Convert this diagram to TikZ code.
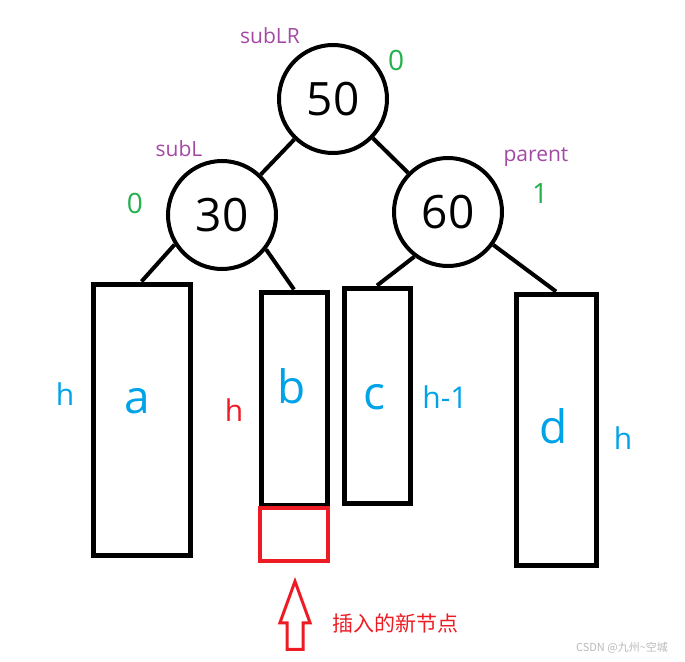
\documentclass[tikz,border=0pt]{standalone}
\usepackage{fontspec}
\setmainfont{Open Sans}
\newfontfamily\cjk{Noto Sans CJK SC}
\usetikzlibrary{shapes.arrows}
\definecolor{paintblue}{HTML}{00A2E8}
\definecolor{paintred}{HTML}{ED1C24}
\definecolor{paintgreen}{HTML}{22B14C}
\definecolor{paintpurple}{HTML}{A349A4}
\definecolor{markgray}{RGB}{185,185,185}
\newcommand{\fsz}[1]{\fontsize{#1}{#1}\selectfont}

\begin{document}
\begin{tikzpicture}[x=1pt,y=-1pt,
  key/.style={circle,draw,line width=4pt,minimum size=108pt,inner sep=0pt,font=\fsz{46}},
  subtree/.style={draw,line width=5pt,inner sep=0pt},
  edge/.style={line width=4pt},
  letter/.style={text=paintblue,font=\fsz{46}},
  height/.style={text=paintblue,font=\fsz{30}},
  tag/.style={text=paintpurple,font=\fsz{21}},
  bf/.style={text=paintgreen,font=\fsz{28}}]
  \useasboundingbox (0,0) rectangle (685,661);
  % keys
  \node[key] (n50) at (333,99) {50};
  \node[key] (n30) at (222,215) {30};
  \node[key] (n60) at (448,212) {60};
  % subtrees
  \node[subtree,minimum width=97pt,minimum height=271pt] (a) at (141.5,419.5) {};
  \node[subtree,minimum width=66pt,minimum height=213pt] (b) at (294,398.5) {};
  \node[subtree,minimum width=66pt,minimum height=215pt] (c) at (377,395.5) {};
  \node[subtree,minimum width=80pt,minimum height=271pt] (d) at (556,429.5) {};
  \node[draw=paintred,line width=4pt,inner sep=0pt,minimum width=68pt,minimum height=53pt] (new) at (294,534.5) {};
  % links
  \draw[edge] (n50) -- (n30);
  \draw[edge] (n50) -- (n60);
  \draw[edge] (n30.212) -- (a.north);
  \draw[edge] (n30.-38) -- (b.north);
  \draw[edge] (n60.233) -- (c.north);
  \draw[edge] (n60.-36) -- (d.north);
  % letters and heights
  \node[letter] (la) at (137,401) {a};
  \node[letter] (lb) at (292,386) {b};
  \node[letter] (lc) at (374,397) {c};
  \node[letter] (ld) at (554,426) {d};
  \node[height] (ha) at (65,394) {h};
  \node[height,text=paintred] (hb) at (234,410) {h};
  \node[height] (hc) at (445,397) {h-1};
  \node[height] (hd) at (623,438) {h};
  % names and balance factors
  \node[tag] (tLR) at (270,36) {subLR};
  \node[tag] (tL) at (179,149) {subL};
  \node[tag] (tP) at (536,157) {parent};
  \node[bf] (bf50) at (396,60) {0};
  \node[bf] (bf30) at (135,203) {0};
  \node[bf] (bf60) at (540,194) {1};
  % inserted node
  \node[single arrow,draw=paintred,line width=3pt,shape border rotate=90,
    minimum height=68pt,minimum width=26pt,inner sep=6.5pt,
    single arrow tip angle=40,anchor=tip] (ins) at (295,577) {};
  \node[text=paintred,font=\cjk\fsz{21}] (insl) at (395,623) {插入的新节点};
  \node[text=markgray,font=\cjk\fsz{11}] (mark) at (622,648) {CSDN @九州\textasciitilde 空城};
\end{tikzpicture}
\end{document}
